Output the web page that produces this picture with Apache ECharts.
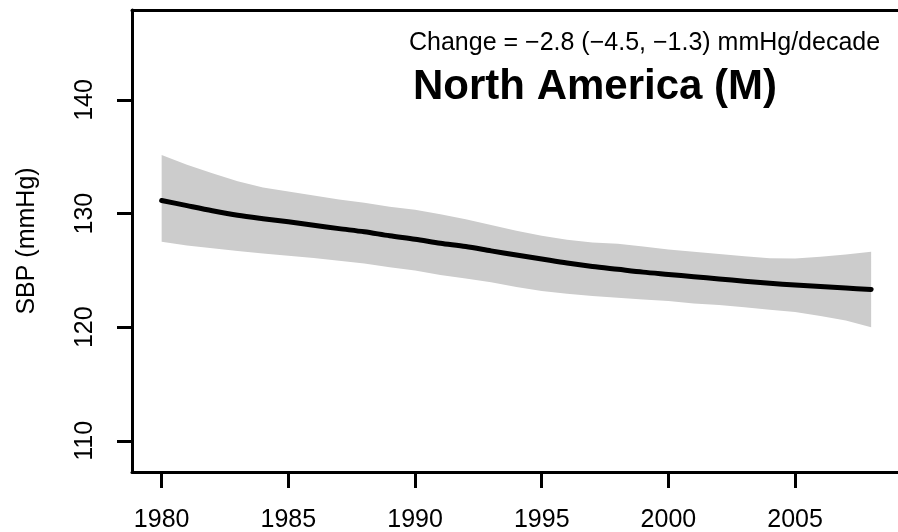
<!DOCTYPE html>
<html>
<head>
<meta charset="utf-8">
<script src="https://cdn.jsdelivr.net/npm/echarts@6/dist/echarts.min.js"></script>
<style>html,body{margin:0;padding:0;background:#fff}#c{width:898px;height:532px}</style>
</head>
<body>
<div id="c"></div>
<script>
var years = [1980,1981,1982,1983,1984,1985,1986,1987,1988,1989,1990,1991,1992,1993,1994,1995,1996,1997,1998,1999,2000,2001,2002,2003,2004,2005,2006,2007,2008];
var meanSBP = [131.16,130.7,130.25,129.85,129.55,129.28,128.98,128.68,128.4,128.05,127.75,127.4,127.1,126.72,126.35,126.0,125.65,125.35,125.1,124.85,124.65,124.45,124.25,124.05,123.87,123.72,123.58,123.45,123.33];
var upperSBP = [135.16,134.3,133.55,132.85,132.3,131.95,131.6,131.25,130.95,130.6,130.35,129.95,129.5,129.0,128.5,128.05,127.7,127.45,127.35,127.1,126.85,126.65,126.45,126.25,126.08,126.05,126.2,126.4,126.65];
var lowerSBP = [127.52,127.2,126.95,126.7,126.5,126.3,126.1,125.85,125.6,125.27,125.0,124.6,124.3,123.95,123.55,123.2,122.95,122.75,122.6,122.45,122.3,122.1,121.95,121.75,121.55,121.35,121.0,120.6,120.0];
var xTicks = [1980,1985,1990,1995,2000,2005];
var yTicks = [110,120,130,140];
var titleText = 'North America (M)';
var subtitleText = 'Change = \u22122.8 (\u22124.5, \u22121.3) mmHg/decade';
var yName = 'SBP (mmHg)';

var FONT = '"Liberation Sans", Arial, Helvetica, sans-serif';
var chart = echarts.init(document.getElementById('c'), null, {renderer: 'canvas'});

var bandData = years.map(function (y, i) { return [y, lowerSBP[i], upperSBP[i]]; });
var lineData = years.map(function (y, i) { return [y, meanSBP[i]]; });
var XMIN = 1978.83, XMAX = 2009.06;

chart.setOption({
  animation: false,
  backgroundColor: '#fff',
  grid: {left: 132, right: 0, top: 10, height: 462, show: false, containLabel: false, outerBoundsMode: 'none'},
  xAxis: [{
    type: 'value', min: XMIN, max: XMAX, position: 'bottom',
    axisLine: {show: true, onZero: false, lineStyle: {color: '#000', width: 3}},
    splitLine: {show: false},
    axisTick: {show: true, customValues: xTicks, length: 16, lineStyle: {color: '#000', width: 3}},
    axisLabel: {customValues: xTicks, fontSize: 25, fontFamily: FONT, color: '#000', margin: 36, formatter: function (v) { return String(v); }}
  }, {
    type: 'value', min: XMIN, max: XMAX, position: 'top',
    axisLine: {show: true, onZero: false, lineStyle: {color: '#000', width: 3}},
    splitLine: {show: false}, axisTick: {show: false}, axisLabel: {show: false}
  }],
  yAxis: {
    type: 'value', min: 107.26, max: 147.92,
    axisLine: {show: true, onZero: false, lineStyle: {color: '#000', width: 3}},
    splitLine: {show: false},
    axisTick: {show: true, customValues: yTicks, length: 15, lineStyle: {color: '#000', width: 3}},
    axisLabel: {customValues: yTicks, fontSize: 25, fontFamily: FONT, color: '#000', rotate: 90, margin: 34, formatter: function (v) { return String(v); }},
    name: yName, nameLocation: 'middle', nameRotate: 90, nameGap: 92,
    nameTextStyle: {fontSize: 25, fontFamily: FONT, color: '#000'}
  },
  graphic: [
    {type: 'text', left: 409, top: 31, style: {text: subtitleText, font: '25px ' + FONT, fill: '#000'}},
    {type: 'text', left: 413, top: 66, style: {text: titleText, font: 'bold 42px ' + FONT, fill: '#000'}}
  ],
  series: [
    {
      type: 'custom',
      data: bandData,
      silent: true,
      z: 1,
      renderItem: function (params, api) {
        if (params.dataIndex !== 0) return null;
        var pts = [];
        for (var i = 0; i < years.length; i++) pts.push(api.coord([years[i], upperSBP[i]]));
        for (var j = years.length - 1; j >= 0; j--) pts.push(api.coord([years[j], lowerSBP[j]]));
        return {type: 'polygon', shape: {points: pts}, style: {fill: '#cccccc', stroke: null}};
      }
    },
    {
      type: 'line',
      data: lineData,
      showSymbol: false,
      smooth: 0.3,
      z: 3,
      lineStyle: {color: '#000', width: 5, cap: 'round', join: 'round'}
    }
  ]
});
</script>
</body>
</html>
